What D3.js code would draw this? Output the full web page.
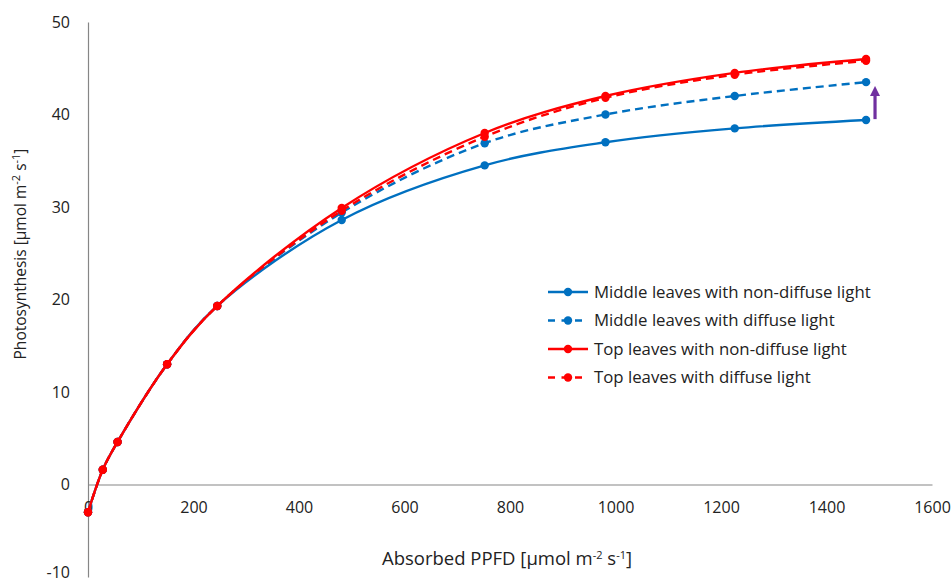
<!DOCTYPE html>
<html>
<head>
<meta charset="utf-8">
<script src="https://cdn.jsdelivr.net/npm/d3@7"></script>
<style>
  body { margin: 0; background: #fff; }
  text { font-family: "Open Sans", sans-serif; fill: #222; }
</style>
</head>
<body>
<svg id="chart"></svg>
<script>
// absorbed PPFD (x) and photosynthesis per series
var ppfd = [0, 28, 56, 150, 245, 481, 752, 981, 1226, 1475]
var middleNonDiffuse = [-3, 1.6, 4.6, 13.0, 19.3, 28.6, 34.5, 37.0, 38.5, 39.4]
var middleDiffuse    = [-3, 1.6, 4.6, 13.0, 19.3, 29.4, 36.9, 40.0, 42.0, 43.5]
var topNonDiffuse    = [-3, 1.6, 4.6, 13.0, 19.3, 29.9, 38.0, 42.0, 44.5, 46.0]
var topDiffuse       = [-3, 1.6, 4.6, 13.0, 19.3, 29.6, 37.6, 41.8, 44.3, 45.8]
var xTicks = [0, 200, 400, 600, 800, 1000, 1200, 1400, 1600]
var yTicks = [-10, 0, 10, 20, 30, 40, 50]

var series = [
  {name: "Middle leaves with non-diffuse light", values: middleNonDiffuse, color: "#0070c0", dash: null},
  {name: "Middle leaves with diffuse light", values: middleDiffuse, color: "#0070c0", dash: "8,5"},
  {name: "Top leaves with non-diffuse light", values: topNonDiffuse, color: "#ff0000", dash: null},
  {name: "Top leaves with diffuse light", values: topDiffuse, color: "#ff0000", dash: "8,5"}
]

var width = 952,
    height = 584,
    svg = d3.select("#chart")
      .attr("width", width)
      .attr("height", height),
    x = d3.scaleLinear().domain([0, 1600]).range([88, 932]),
    y = d3.scaleLinear().domain([-10, 50]).range([577, 22]),
    plain = (d) => (d < 0 ? "-" : "") + Math.abs(d)

// axes, no tick marks
svg.append("g")
  .attr("transform", `translate(${x(0)},0)`)
  .call(d3.axisLeft(y).tickValues(yTicks).tickFormat(plain).tickSize(0).tickPadding(18))
svg.append("g")
  .attr("transform", `translate(0,${y(0)})`)
  .call(d3.axisBottom(x).tickValues(xTicks).tickFormat(plain).tickSize(0).tickPadding(17))

svg.selectAll(".domain").attr("stroke", "#868686").attr("stroke-width", 1.2)
svg.selectAll(".tick text").style("font-size", "16px").attr("fill", "#222")
// keep the lowest label inside the picture
svg.selectAll(".tick text").filter((d) => d === -10).attr("dy", "0.02em")

var unit = 'µmol m<tspan dy="-6" style="font-size:11px">-2</tspan><tspan dy="6"> s</tspan>' +
           '<tspan dy="-6" style="font-size:11px">-1</tspan><tspan dy="6">]</tspan>'

// axis titles
svg.append("text")
  .attr("x", 507).attr("y", 565)
  .attr("text-anchor", "middle")
  .style("font-size", "18.5px")
  .html("Absorbed PPFD [" + unit)

svg.append("text")
  .attr("transform", "translate(26,254) rotate(-90)")
  .attr("text-anchor", "middle")
  .style("font-size", "15.5px")
  .html("Photosynthesis [" + unit)

var line = d3.line()
  .x((d, i) => x(ppfd[i]))
  .y((d) => y(d))
  .curve(d3.curveCatmullRom.alpha(0.5))

series.forEach((s) => {
  svg.append("path")
    .attr("d", line(s.values))
    .attr("fill", "none")
    .attr("stroke", s.color)
    .attr("stroke-width", 2.4)
    .attr("stroke-dasharray", s.dash)
  svg.append("g")
    .selectAll("circle")
    .data(s.values)
    .enter().append("circle")
      .attr("cx", (d, i) => x(ppfd[i]))
      .attr("cy", (d) => y(d))
      .attr("r", 4.2)
      .attr("fill", s.color)
})

// purple arrow annotation
svg.append("defs").append("marker")
  .attr("id", "head")
  .attr("viewBox", "0 -5 10 10")
  .attr("refX", 2)
  .attr("refY", 0)
  .attr("markerWidth", 3.2)
  .attr("markerHeight", 3.2)
  .attr("orient", "auto")
  .append("path")
    .attr("d", "M0,-5L10,0L0,5Z")
    .attr("fill", "#7030a0")

svg.append("line")
  .attr("x1", x(1492)).attr("y1", y(39.5))
  .attr("x2", x(1492)).attr("y2", y(42.2))
  .attr("stroke", "#7030a0")
  .attr("stroke-width", 3.2)
  .attr("marker-end", "url(#head)")

// legend
var legend = svg.append("g").attr("transform", "translate(548,292)")
var row = legend.selectAll("g")
  .data(series)
  .enter().append("g")
    .attr("transform", (d, i) => `translate(0,${i * 28.5})`)
row.append("line")
  .attr("x1", 0).attr("x2", 40)
  .attr("stroke", (d) => d.color)
  .attr("stroke-width", 2.4)
  .attr("stroke-dasharray", (d) => d.dash ? "7,6.5" : null)
row.append("circle")
  .attr("cx", 20).attr("r", 4.2)
  .attr("fill", (d) => d.color)
row.append("text")
  .attr("x", 46).attr("dy", "0.35em")
  .style("font-size", "16.8px")
  .text((d) => d.name)
</script>
</body>
</html>
